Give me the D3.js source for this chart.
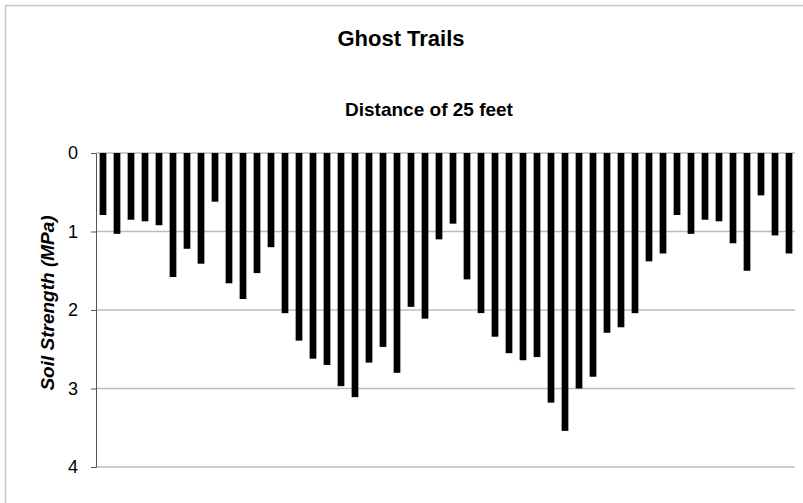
<!DOCTYPE html>
<html>
<head>
<meta charset="utf-8">
<script src="https://cdn.jsdelivr.net/npm/d3@7"></script>
<style>
	body { margin: 0; background: #fff; }
	svg text { font-family: Arial, "Liberation Sans", sans-serif; fill: #000; }
</style>
</head>
<body>
<svg width="803" height="503"></svg>
<script>
// soil strength readings (MPa) along the 25 ft transect
var strength = [
	0.79, 1.03, 0.85, 0.87, 0.92, 1.58, 1.22, 1.41, 0.62, 1.66,
	1.86, 1.53, 1.20, 2.04, 2.39, 2.62, 2.70, 2.97, 3.11, 2.67,
	2.47, 2.80, 1.96, 2.11, 1.10, 0.90, 1.61, 2.04, 2.34, 2.55,
	2.64, 2.60, 3.18, 3.54, 3.00, 2.85, 2.29, 2.22, 2.04, 1.38,
	1.28, 0.79, 1.03, 0.85, 0.87, 1.15, 1.50, 0.54, 1.05, 1.28
];
var positions = d3.range(1, strength.length + 1);
var yTicks = [0, 1, 2, 3, 4];
var title = "Ghost Trails",
	subtitle = "Distance of 25 feet",
	yLabel = "Soil Strength (MPa)";

var svg = d3.select("svg");

var plotLeft = 96, plotRight = 796, plotTop = 153, plotBottom = 467;

var x = d3.scaleBand()
	.domain(positions)
	.range([plotLeft, plotRight])
	.paddingInner(0.52)
	.paddingOuter(0.26);

var y = d3.scaleLinear()
	.domain([0, 4])
	.range([plotTop, plotBottom]);

// outer chart frame (only left and top edges are visible in the crop)
svg.append("path")
	.attr("d", "M5.5,503V5.5H803")
	.attr("fill", "none")
	.attr("stroke", "#c8c8c8")
	.attr("stroke-width", 1.5);

// gridlines
svg.append("g")
	.selectAll("line")
	.data(yTicks)
	.enter()
	.append("line")
	.attr("x1", plotLeft)
	.attr("x2", plotRight - 1)
	.attr("y1", function(d){ return y(d); })
	.attr("y2", function(d){ return y(d); })
	.attr("stroke", "#bcbcbc")
	.attr("stroke-width", 1.5);

// y axis
var yAxis = d3.axisLeft(y)
	.tickValues(yTicks)
	.tickFormat(d3.format("d"))
	.tickSizeInner(5)
	.tickSizeOuter(0)
	.tickPadding(13);

var gy = svg.append("g")
	.attr("transform", "translate(" + plotLeft + ",0)")
	.call(yAxis);
gy.select(".domain").attr("stroke", "#555").attr("stroke-width", 1);
gy.selectAll(".tick line").attr("stroke", "#555");
gy.selectAll(".tick text")
	.attr("font-size", 18)
	.attr("fill", "#000");

// bars hang down from zero
svg.append("g")
	.selectAll("rect")
	.data(strength)
	.enter()
	.append("rect")
	.attr("x", function(d, i){ return x(positions[i]); })
	.attr("y", y(0))
	.attr("width", x.bandwidth())
	.attr("height", function(d){ return y(d) - y(0); })
	.attr("fill", "#000");

svg.append("text")
	.attr("x", 401)
	.attr("y", 46)
	.attr("text-anchor", "middle")
	.attr("font-size", 22)
	.attr("font-weight", "bold")
	.text(title);

svg.append("text")
	.attr("x", 429)
	.attr("y", 116)
	.attr("text-anchor", "middle")
	.attr("font-size", 19)
	.attr("font-weight", "bold")
	.text(subtitle);

svg.append("text")
	.attr("transform", "translate(54,303) rotate(-90)")
	.attr("text-anchor", "middle")
	.attr("font-size", 19)
	.attr("font-weight", "bold")
	.attr("font-style", "italic")
	.text(yLabel);
</script>
</body>
</html>
